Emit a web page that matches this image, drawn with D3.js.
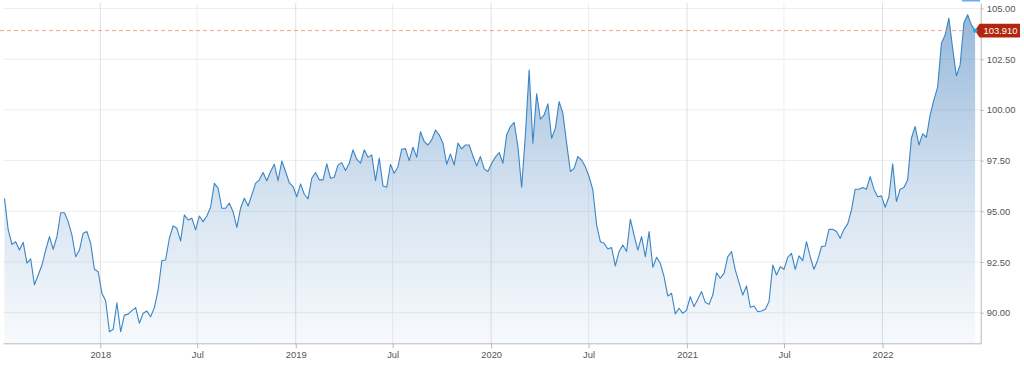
<!DOCTYPE html>
<html>
<head>
<meta charset="utf-8">
<script src="https://cdn.jsdelivr.net/npm/d3@7"></script>
<style>
  html, body { margin: 0; padding: 0; background: #fff; }
  svg { display: block; font-family: "Liberation Sans", Arial, sans-serif; }
  .os .tick text { fill: #555; font-size: 9.4px; }
  .os path, .os line { stroke: #b8b8b8; }
</style>
</head>
<body>
<div id="graf"></div>
<script>
// tjedne vrijednosti, prva tjedna tocka
const pocetak = new Date(2017, 6, 6);
const vrijednosti = [
  95.64, 94.08, 93.37, 93.50, 93.09, 93.47, 92.44, 92.65, 91.37, 91.86,
  92.35, 93.09, 93.75, 93.13, 93.75, 94.93, 94.93, 94.49, 93.83, 92.76,
  93.09, 93.92, 94.00, 93.42, 92.14, 92.02, 90.96, 90.59, 89.06, 89.18,
  90.49, 89.06, 89.88, 89.93, 90.10, 90.25, 89.48, 89.97, 90.08, 89.80,
  90.25, 91.12, 92.57, 92.60, 93.67, 94.28, 94.16, 93.54,
  94.82, 94.57, 94.66, 94.08, 94.77, 94.49, 94.77, 95.20, 96.38, 96.14,
  95.15, 95.15, 95.40, 94.98, 94.21, 95.15, 95.64, 95.26, 95.81, 96.38,
  96.55, 96.91, 96.51, 96.96, 97.32, 96.51, 97.48, 96.96, 96.41, 96.22,
  95.72, 96.35, 95.84, 95.61, 96.63, 96.91, 96.55, 96.55, 97.34, 96.63,
  96.68, 97.29, 97.40, 97.01, 97.37, 98.03, 97.57, 97.37, 98.03, 97.67,
  97.78, 96.51, 97.62, 96.25, 96.19, 97.32, 96.88, 97.20, 98.06, 98.09,
  97.50, 98.16, 97.67, 98.93, 98.44, 98.27, 98.52, 99.01, 98.77, 98.36,
  97.32, 97.83, 97.29, 98.36, 98.08, 98.27, 98.27, 97.73, 97.24,
  97.70, 97.09, 96.96, 97.37, 97.67, 97.90, 97.37, 98.77, 99.18, 99.38,
  98.19, 96.19, 98.77, 101.97, 98.36, 100.79, 99.54, 99.75, 100.30, 98.60,
  99.10, 100.41, 99.84, 98.36, 96.96, 97.12, 97.70, 97.53, 97.20, 96.71,
  96.05, 94.33, 93.50, 93.42, 93.14, 93.21, 92.31, 93.02, 93.34, 93.02,
  94.61, 93.83, 93.09, 93.75, 92.76, 94.00, 92.24, 92.73, 92.44, 91.78,
  90.82, 90.96, 89.94, 90.22, 89.97, 90.13, 90.79, 90.30, 90.66, 91.04,
  90.51, 90.41, 90.87, 91.97,
  91.70, 91.94, 92.76, 93.01, 92.11, 91.48, 90.87, 91.32, 90.27, 90.33,
  90.05, 90.08, 90.17, 90.54, 92.35, 91.86, 92.27, 92.14, 92.73, 92.93,
  92.14, 92.80, 92.57, 93.50, 92.76, 92.14, 92.60, 93.26, 93.29, 94.11,
  94.11, 94.00, 93.67, 94.11, 94.38, 95.07, 96.09, 96.09, 96.17, 96.09,
  96.71, 96.09, 95.72, 95.76, 95.20, 95.72, 97.34, 95.48, 96.09, 96.17,
  96.55, 98.60, 99.18, 98.27, 98.82, 98.65, 99.75, 100.49, 101.12, 103.29,
  103.70, 104.52, 103.04, 101.68, 102.22, 104.28, 104.69, 104.19, 103.91
];
const zadnjaVrijednost = 103.91;

const yOznake = [90, 92.5, 95, 97.5, 100, 102.5, 105];
const xOznakeDatumi = [
  new Date(2018, 0, 1), new Date(2018, 6, 1), new Date(2019, 0, 1),
  new Date(2019, 6, 1), new Date(2020, 0, 1), new Date(2020, 6, 1),
  new Date(2021, 0, 1), new Date(2021, 6, 1), new Date(2022, 0, 1)
];
const xOznakeTekst = ["2018", "Jul", "2019", "Jul", "2020", "Jul", "2021", "Jul", "2022"];

function crtajGraf() {
  const dimenzije = {
    sirina: 1024,
    visina: 372,
    lijevo: 3,
    desno: 980.7,
    gore: 3,
    dolje: 343.3
  };

  const podaci = vrijednosti.map((v, i) => ({
    datum: d3.timeWeek.offset(pocetak, i),
    vrijednost: v
  }));

  const xSkala = d3.scaleTime()
    .domain([new Date(2017, 6, 3, 6), new Date(2022, 6, 3, 10)])
    .range([dimenzije.lijevo, dimenzije.desno]);

  const ySkala = d3.scaleLinear()
    .domain([88.491, 105.271])
    .range([dimenzije.dolje, dimenzije.gore]);

  const okvir = d3.select("#graf")
    .append("svg")
    .attr("width", dimenzije.sirina)
    .attr("height", dimenzije.visina);

  const defs = okvir.append("defs");
  const gradijent = defs.append("linearGradient")
    .attr("id", "ispuna")
    .attr("x1", 0).attr("y1", 0)
    .attr("x2", 0).attr("y2", 1);
  [[0, 0.56], [0.2, 0.44], [0.56, 0.22], [1, 0.04]].forEach(([o, a]) => {
    gradijent.append("stop")
      .attr("offset", o)
      .attr("stop-color", "rgb(70,130,190)")
      .attr("stop-opacity", a);
  });

  // mreza
  okvir.append("g")
    .selectAll("line")
    .data(yOznake)
    .enter().append("line")
    .attr("x1", dimenzije.lijevo)
    .attr("x2", dimenzije.desno)
    .attr("y1", d => ySkala(d))
    .attr("y2", d => ySkala(d))
    .attr("stroke", "#ededed");

  okvir.append("g")
    .selectAll("line")
    .data(xOznakeDatumi)
    .enter().append("line")
    .attr("x1", d => xSkala(d))
    .attr("x2", d => xSkala(d))
    .attr("y1", dimenzije.gore)
    .attr("y2", dimenzije.dolje)
    .attr("stroke", (d, i) => i % 2 === 0 ? "#e0e0e0" : "#eeeeee");

  // povrsina i linija
  const povrsina = d3.area()
    .x(d => xSkala(d.datum))
    .y0(dimenzije.dolje)
    .y1(d => ySkala(d.vrijednost));

  okvir.append("path")
    .datum(podaci)
    .attr("d", povrsina)
    .attr("fill", "url(#ispuna)");

  const linija = d3.line()
    .x(d => xSkala(d.datum))
    .y(d => ySkala(d.vrijednost));

  okvir.append("path")
    .datum(podaci)
    .attr("d", linija)
    .attr("fill", "none")
    .attr("stroke", "#3a85c5")
    .attr("stroke-width", 1.1)
    .attr("stroke-linejoin", "round");

  // osi
  okvir.append("g")
    .attr("class", "os")
    .attr("transform", `translate(0,${dimenzije.dolje})`)
    .call(d3.axisBottom(xSkala)
      .tickValues(xOznakeDatumi)
      .tickFormat((d, i) => xOznakeTekst[i])
      .tickSize(5)
      .tickSizeOuter(0)
      .tickPadding(3));

  okvir.append("g")
    .attr("class", "os")
    .attr("transform", `translate(${dimenzije.desno},0)`)
    .call(d3.axisRight(ySkala)
      .tickValues(yOznake)
      .tickFormat(d3.format(".2f"))
      .tickSize(3)
      .tickSizeOuter(0)
      .tickPadding(3));

  // zadnja vrijednost
  const yZadnja = ySkala(zadnjaVrijednost);
  const vrh = dimenzije.desno - 5.7;

  okvir.append("line")
    .attr("x1", 0)
    .attr("x2", vrh)
    .attr("y1", yZadnja)
    .attr("y2", yZadnja)
    .attr("stroke", "#eba48f")
    .attr("stroke-dasharray", "4,3");

  const oznaka = okvir.append("g")
    .attr("transform", `translate(${vrh},${yZadnja})`);

  oznaka.append("path")
    .attr("d", "M0,0 L4.5,-6.8 H45 V6.8 H4.5 Z")
    .attr("fill", "#b3260d");

  oznaka.append("text")
    .attr("x", 8.5)
    .attr("dy", "0.35em")
    .attr("fill", "#fff")
    .style("font-size", "9.4px")
    .text(d3.format(".3f")(zadnjaVrijednost));

  const zadnji = podaci[podaci.length - 1];
  okvir.append("circle")
    .attr("cx", xSkala(zadnji.datum))
    .attr("cy", ySkala(zadnji.vrijednost))
    .attr("r", 2.2)
    .attr("fill", "#22a8ec");

  // plavi rub gumba na vrhu
  okvir.append("rect")
    .attr("x", 962)
    .attr("y", 0)
    .attr("width", 18)
    .attr("height", 1.5)
    .attr("fill", "#6aaaf0");
}

crtajGraf();
</script>
</body>
</html>
